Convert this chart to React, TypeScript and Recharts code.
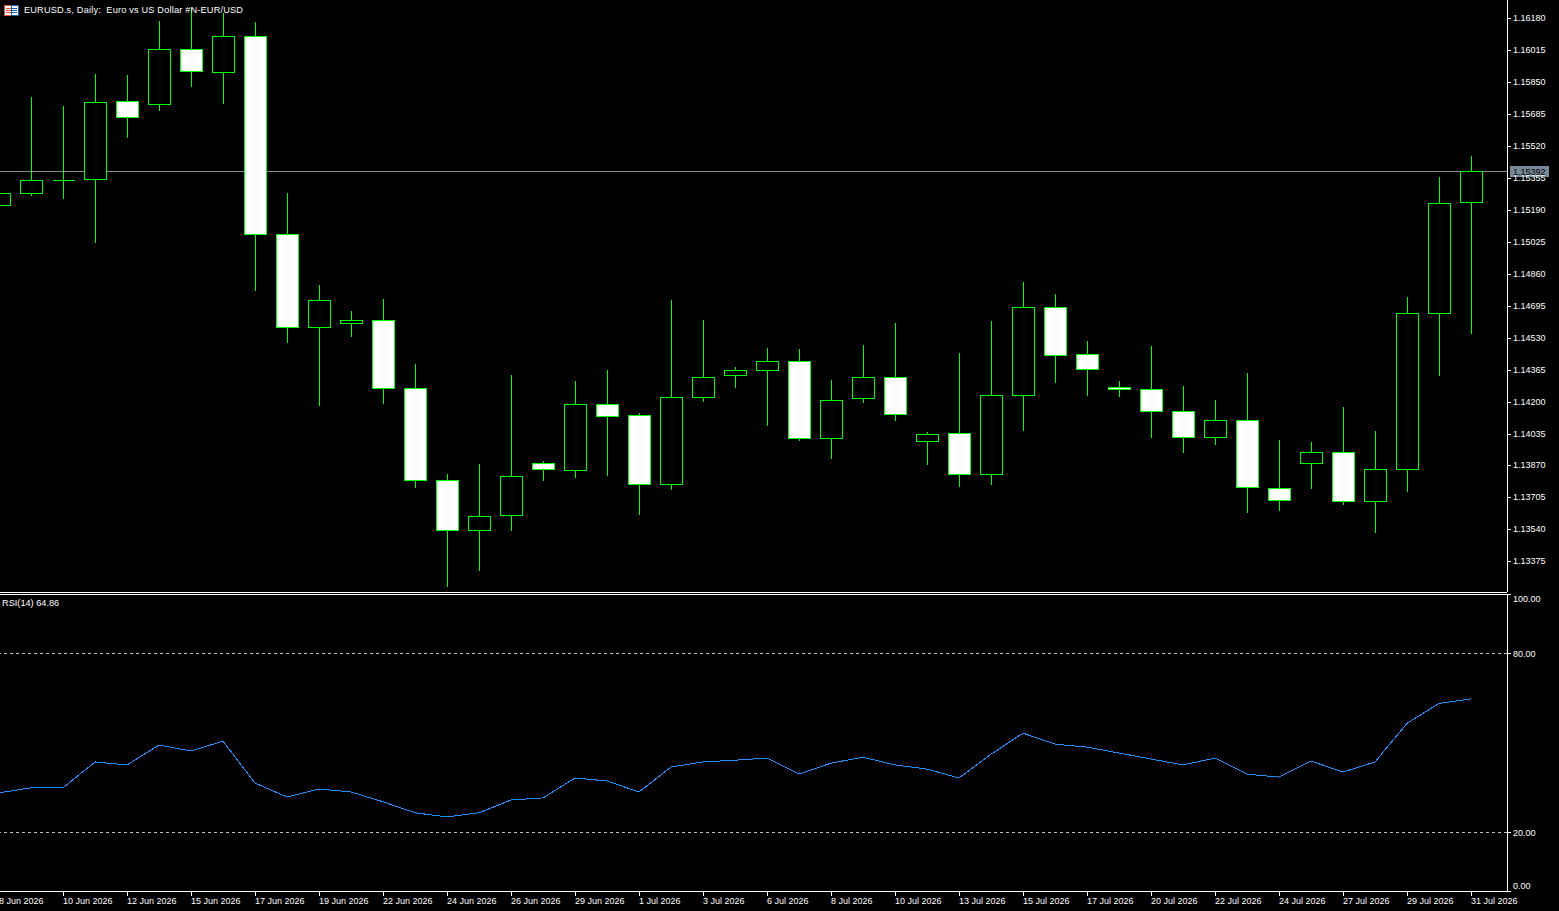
import { Bar, ComposedChart, Line, LineChart, ReferenceLine, XAxis, YAxis } from 'recharts';

const dates = [
  '8 Jun 2026', '9 Jun 2026', '10 Jun 2026', '11 Jun 2026', '12 Jun 2026', '14 Jun 2026',
  '15 Jun 2026', '16 Jun 2026', '17 Jun 2026', '18 Jun 2026', '19 Jun 2026', '21 Jun 2026',
  '22 Jun 2026', '23 Jun 2026', '24 Jun 2026', '25 Jun 2026', '26 Jun 2026', '28 Jun 2026',
  '29 Jun 2026', '30 Jun 2026', '1 Jul 2026', '2 Jul 2026', '3 Jul 2026', '5 Jul 2026',
  '6 Jul 2026', '7 Jul 2026', '8 Jul 2026', '9 Jul 2026', '10 Jul 2026', '12 Jul 2026',
  '13 Jul 2026', '14 Jul 2026', '15 Jul 2026', '16 Jul 2026', '17 Jul 2026', '19 Jul 2026',
  '20 Jul 2026', '21 Jul 2026', '22 Jul 2026', '23 Jul 2026', '24 Jul 2026', '26 Jul 2026',
  '27 Jul 2026', '28 Jul 2026', '29 Jul 2026', '30 Jul 2026', '31 Jul 2026',
];
const opens = [
  1.15215, 1.15277, 1.15344, 1.15349, 1.15752, 1.15737, 1.16021, 1.15902, 1.16088, 1.15065,
  1.14585, 1.14606, 1.14621, 1.1427, 1.13795, 1.13537, 1.13614, 1.13883, 1.13846, 1.14187,
  1.14131, 1.13774, 1.14224, 1.14337, 1.14363, 1.1441, 1.14012, 1.14218, 1.14327, 1.13996,
  1.14038, 1.13826, 1.14234, 1.14688, 1.14446, 1.14275, 1.14265, 1.14151, 1.14017, 1.14105,
  1.13754, 1.13883, 1.13939, 1.13686, 1.13852, 1.14657, 1.15231,
];
const highs = [
  1.15278, 1.15776, 1.15729, 1.15895, 1.15889, 1.16168, 1.16235, 1.1621, 1.16163, 1.1528,
  1.14805, 1.1467, 1.14732, 1.14397, 1.13828, 1.1388, 1.1434, 1.13896, 1.14309, 1.14366,
  1.14143, 1.14727, 1.14624, 1.14381, 1.14479, 1.14474, 1.14314, 1.14495, 1.14608, 1.14045,
  1.14453, 1.14619, 1.1482, 1.14758, 1.14515, 1.14309, 1.1449, 1.14283, 1.14211, 1.1435,
  1.14004, 1.13994, 1.14174, 1.14051, 1.14743, 1.15362, 1.15471,
];
const lows = [
  1.15214, 1.15264, 1.15249, 1.15022, 1.15564, 1.15703, 1.15827, 1.15739, 1.14774, 1.14505,
  1.1418, 1.14536, 1.1419, 1.13756, 1.13245, 1.13327, 1.13534, 1.13792, 1.13808, 1.13818,
  1.13617, 1.13746, 1.142, 1.14273, 1.14076, 1.13999, 1.13906, 1.14195, 1.14102, 1.13875,
  1.13761, 1.13772, 1.14051, 1.14298, 1.14231, 1.14226, 1.14014, 1.13937, 1.13978, 1.13627,
  1.13637, 1.13751, 1.13668, 1.13524, 1.13735, 1.14335, 1.14552,
];
const closes = [
  1.15277, 1.15344, 1.15344, 1.15747, 1.1567, 1.16021, 1.15907, 1.16088, 1.15065, 1.14585,
  1.14725, 1.14621, 1.1427, 1.13795, 1.13537, 1.13609, 1.13815, 1.13852, 1.14187, 1.14125,
  1.13774, 1.14224, 1.14327, 1.14363, 1.1441, 1.14012, 1.14208, 1.14327, 1.14136, 1.14032,
  1.13826, 1.14234, 1.14688, 1.1444, 1.14368, 1.14265, 1.14151, 1.14017, 1.14105, 1.13759,
  1.13692, 1.13939, 1.13686, 1.13852, 1.14657, 1.15226, 1.15392,
];
const rsiValues = [
  33.2, 34.9, 34.9, 43.6, 42.6, 49.3, 47.3, 50.6, 36.5, 31.8, 34.5, 33.5, 30.2, 26.5, 25.1, 26.5,
  30.8, 31.5, 38.2, 37.2, 33.5, 41.9, 43.6, 44.2, 44.9, 39.5, 43.2, 45.2, 42.6, 41.2, 38.2, 46.2,
  53.3, 49.6, 48.6, 46.6, 44.6, 42.6, 44.9, 39.5, 38.5, 43.9, 40.2, 43.6, 56.6, 63.3, 64.86,
];
const priceTicks = [
  1.1618, 1.16015, 1.1585, 1.15685, 1.1552, 1.15355, 1.1519, 1.15025, 1.1486, 1.14695, 1.1453,
  1.14365, 1.142, 1.14035, 1.1387, 1.13705, 1.1354, 1.13375,
];
const rsiTicks = [100, 80, 20, 0];
const lastPrice = 1.15392;

const candles = dates.map((date, i) => ({
  date,
  open: opens[i],
  close: closes[i],
  high: highs[i],
  low: lows[i],
  range: [lows[i], highs[i]],
}));
const rsiData = dates.map((date, i) => ({ date, rsi: rsiValues[i] }));

const FONT = '"Liberation Sans", Arial, sans-serif';
const GREEN = '#00ff00';
const axisStroke = { stroke: '#ffffff', shapeRendering: 'crispEdges' };

const Candle = (props: any) => {
  const { x, y, width, height, payload } = props;
  const { open, close, high, low } = payload;
  const cx = Math.floor(x + width / 2) + 0.5;
  const toY = (v: number) => y + ((high - v) / (high - low)) * height;
  const top = Math.floor(toY(Math.max(open, close))) + 0.5;
  const bottom = Math.floor(toY(Math.min(open, close))) + 0.5;
  const fill = close < open ? '#ffffff' : '#000000';
  // a path and not a rect, a doji has no height and a rect would vanish
  const body = `M${cx - 11} ${top}H${cx + 11}V${bottom}H${cx - 11}Z`;
  return (
    <g shapeRendering="crispEdges">
      <line x1={cx} x2={cx} y1={Math.round(y)} y2={Math.round(y + height)} stroke={GREEN} />
      <path d={body} fill={fill} stroke={GREEN} />
    </g>
  );
};

const PriceTick = ({ x, y, payload }: any) => (
  <text x={x} y={y + 2.5} fill="#ffffff" fontSize={9} fontFamily={FONT}>
    {payload.value.toFixed(5)}
  </text>
);

const RsiTick = ({ x, y, payload }: any) => {
  const shift = payload.value === 100 ? 4 : payload.value === 0 ? -6 : 0;
  return (
    <text x={x} y={y + shift + 3.5} fill="#ffffff" fontSize={9} fontFamily={FONT}>
      {payload.value.toFixed(2)}
    </text>
  );
};

const DateTick = ({ x, y, payload }: any) => (
  <text x={Math.floor(x)} y={y + 6} fill="#ffffff" fontSize={9} fontFamily={FONT}>
    {payload.value}
  </text>
);

const PriceTag = ({ viewBox }: any) => (
  <g>
    <rect x={viewBox.x + viewBox.width + 3} y={viewBox.y - 5} width={39} height={11} fill="#778899" shapeRendering="crispEdges" />
    <text x={viewBox.x + viewBox.width + 6} y={viewBox.y + 3.5} fill="#000000" fontSize={9} fontFamily={FONT}>
      {lastPrice.toFixed(5)}
    </text>
  </g>
);

const Flag = () => (
  <svg width={15} height={11} style={{ position: 'absolute', left: 4, top: 5 }} shapeRendering="crispEdges">
    <rect x={0.5} y={0.5} width={7} height={10} fill="#ffffff" stroke="#e05040" />
    <rect x={7.5} y={0.5} width={7} height={10} fill="#ffffff" stroke="#1060b0" />
    <path d="M2 3.5H7M2 5.5H7M2 7.5H7" stroke="#e05040" />
    <path d="M8 3.5H13M8 5.5H13M8 7.5H13" stroke="#1060b0" />
  </svg>
);

const App = () => {
  return (
    <div style={{ position: 'fixed', left: 0, top: 0, width: 1559, height: 911, background: '#000', overflow: 'hidden' }}>
      <div style={{ position: 'absolute', left: -17, top: 0 }}>
        <ComposedChart width={1576} height={592} data={candles} barCategoryGap={0} margin={{ top: 0, right: 0, bottom: 0, left: 0 }}>
          <XAxis dataKey="date" hide padding={{ left: 0, right: 20 }} />
          <YAxis
            orientation="right"
            width={52}
            domain={[1.132189, 1.162767]}
            ticks={priceTicks}
            interval={0}
            allowDataOverflow
            axisLine={axisStroke}
            tickLine={axisStroke}
            tickSize={4}
            tickMargin={2}
            tick={PriceTick}
          />
          <ReferenceLine y={lastPrice} stroke="#8c8c8c" shapeRendering="crispEdges" zIndex={100} />
          <Bar dataKey="range" shape={Candle} isAnimationActive={false} />
          <ReferenceLine y={lastPrice} stroke="none" label={PriceTag} zIndex={1000} />
        </ComposedChart>
      </div>

      <div style={{ position: 'absolute', left: 0, top: 592, width: 1507, height: 1, background: '#fff' }} />
      <div style={{ position: 'absolute', left: 0, top: 594, width: 1507, height: 1, background: '#fff' }} />

      <div style={{ position: 'absolute', left: -17, top: 590 }}>
        <LineChart width={1576} height={321} data={rsiData} margin={{ top: 4.4, right: 0, bottom: 0, left: 0 }}>
          <XAxis
            dataKey="date"
            scale="band"
            padding={{ left: 0, right: 20 }}
            height={19.5}
            interval={1}
            axisLine={axisStroke}
            tickLine={axisStroke}
            tickSize={4}
            tick={DateTick}
          />
          <YAxis
            orientation="right"
            width={52}
            domain={[0, 100]}
            ticks={rsiTicks}
            interval={0}
            axisLine={axisStroke}
            tickLine={axisStroke}
            tickSize={4}
            tickMargin={2}
            tick={RsiTick}
          />
          <ReferenceLine y={80} stroke="#c0c0c0" strokeDasharray="3 3" shapeRendering="crispEdges" />
          <ReferenceLine y={20} stroke="#c0c0c0" strokeDasharray="3 3" shapeRendering="crispEdges" />
          <Line dataKey="rsi" type="linear" stroke="#1e90ff" strokeWidth={1} dot={false} shapeRendering="crispEdges" isAnimationActive={false} />
        </LineChart>
      </div>

      <Flag />
      <div style={{ position: 'absolute', left: 24, top: 5, color: '#fff', fontFamily: FONT, fontSize: 9.2, letterSpacing: 0.18, lineHeight: '11px', whiteSpace: 'pre' }}>
        {'EURUSD.s, Daily:  Euro vs US Dollar #N-EUR/USD'}
      </div>
      <div style={{ position: 'absolute', left: 2, top: 598, color: '#fff', fontFamily: FONT, fontSize: 9.2, lineHeight: '11px', whiteSpace: 'pre' }}>
        RSI(14) 64.86
      </div>
    </div>
  );
};

export default App;
